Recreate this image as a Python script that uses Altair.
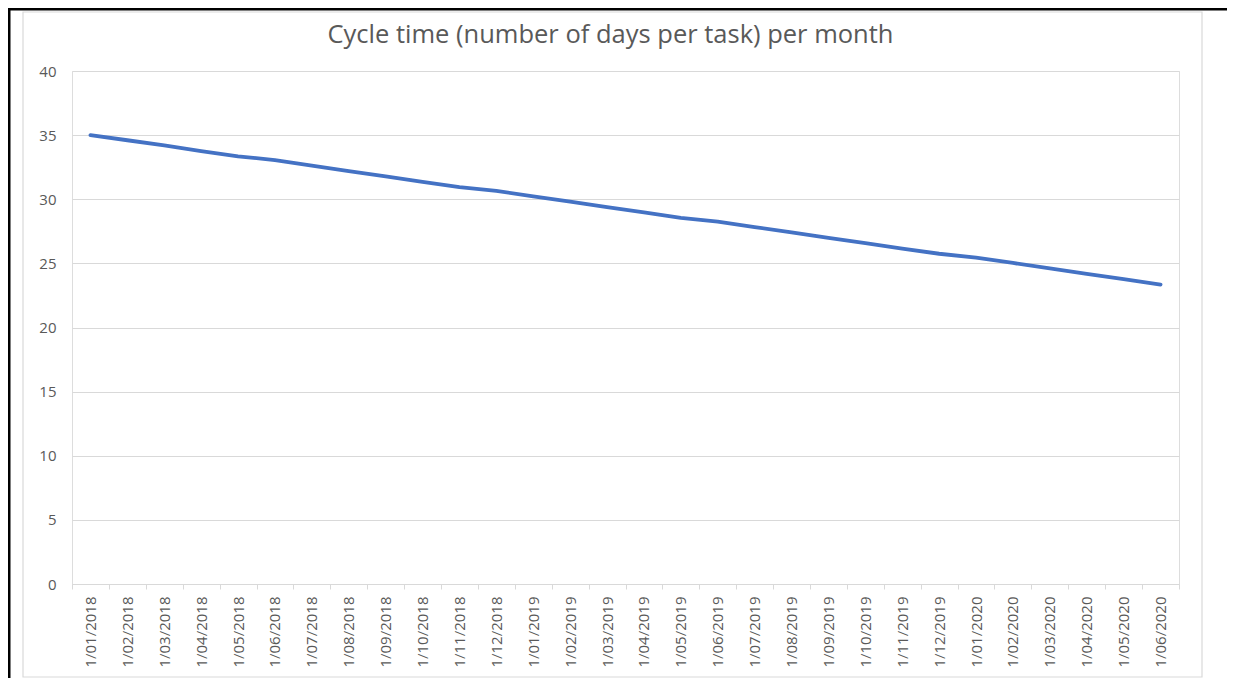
import altair as alt
import pandas as pd

months = [
    "1/01/2018", "1/02/2018", "1/03/2018", "1/04/2018", "1/05/2018", "1/06/2018",
    "1/07/2018", "1/08/2018", "1/09/2018", "1/10/2018", "1/11/2018", "1/12/2018",
    "1/01/2019", "1/02/2019", "1/03/2019", "1/04/2019", "1/05/2019", "1/06/2019",
    "1/07/2019", "1/08/2019", "1/09/2019", "1/10/2019", "1/11/2019", "1/12/2019",
    "1/01/2020", "1/02/2020", "1/03/2020", "1/04/2020", "1/05/2020", "1/06/2020",
]
cycle_days = [
    35.0, 34.6, 34.2, 33.75, 33.35, 33.05,
    32.63, 32.2, 31.78, 31.36, 30.95, 30.65,
    30.23, 29.81, 29.39, 28.97, 28.55, 28.25,
    27.83, 27.41, 26.99, 26.57, 26.15, 25.75,
    25.45, 25.03, 24.61, 24.19, 23.77, 23.35,
]
y_ticks = [0, 5, 10, 15, 20, 25, 30, 35, 40]

df = pd.DataFrame({"month": months, "days": cycle_days})

FONT = "Open Sans"
GRAY_TXT = "#595959"
GRID = "#d9d9d9"

line = alt.Chart(df).mark_line(color="#4472C4", strokeWidth=3.8, strokeCap="round", strokeJoin="round").encode(
    x=alt.X(
        "month:O",
        sort=None,
        bandPosition=0.5,
        scale=alt.Scale(type="band", paddingInner=0, paddingOuter=0),
        axis=alt.Axis(
            title=None,
            labelAngle=-90,
            labelAlign="right",
            labelBaseline="middle",
            labelPadding=7,
            labelFont=FONT,
            labelFontSize=15,
            labelColor=GRAY_TXT,
            domainColor=GRID,
            domainWidth=1,
            tickColor=GRID,
            tickSize=5,
            tickBand="extent",
            grid=False,
        ),
    ),
    y=alt.Y(
        "days:Q",
        scale=alt.Scale(domain=[0, 40], nice=False, zero=True),
        axis=alt.Axis(
            title=None,
            values=y_ticks,
            domain=False,
            ticks=False,
            labelPadding=16,
            labelFont=FONT,
            labelFontSize=15,
            labelColor=GRAY_TXT,
            grid=True,
            gridColor=GRID,
            gridWidth=1,
        ),
    ),
)

one = pd.DataFrame({"k": [0]})

frame = alt.Chart(one).mark_rect(fillOpacity=0, stroke=GRID, strokeWidth=1.2).encode(
    x=alt.value(-49), x2=alt.value(1130), y=alt.value(-59), y2=alt.value(606)
)
black_left = alt.Chart(one).mark_rule(color="black", strokeWidth=3).encode(
    x=alt.value(-63), y=alt.value(-63), y2=alt.value(607)
)
black_top = alt.Chart(one).mark_rule(color="black", strokeWidth=3).encode(
    x=alt.value(-64), x2=alt.value(1155), y=alt.value(-62)
)

chart = alt.layer(frame, line, black_left, black_top).properties(
    width=1107,
    height=513,
    autosize=alt.AutoSizeParams(type="none"),
    padding={"left": 64, "top": 63, "right": 48, "bottom": 94},
    title=alt.TitleParams(
        "Cycle time (number of days per task) per month",
        font=FONT,
        fontSize=25.5,
        fontWeight="normal",
        color=GRAY_TXT,
        anchor="middle",
        baseline="alphabetic",
        offset=0,
        dy=62,
        dx=-15,
    ),
).configure_view(stroke=None).configure(background="white")

chart.save("out.html", embed_options={"renderer": "svg", "actions": False})
